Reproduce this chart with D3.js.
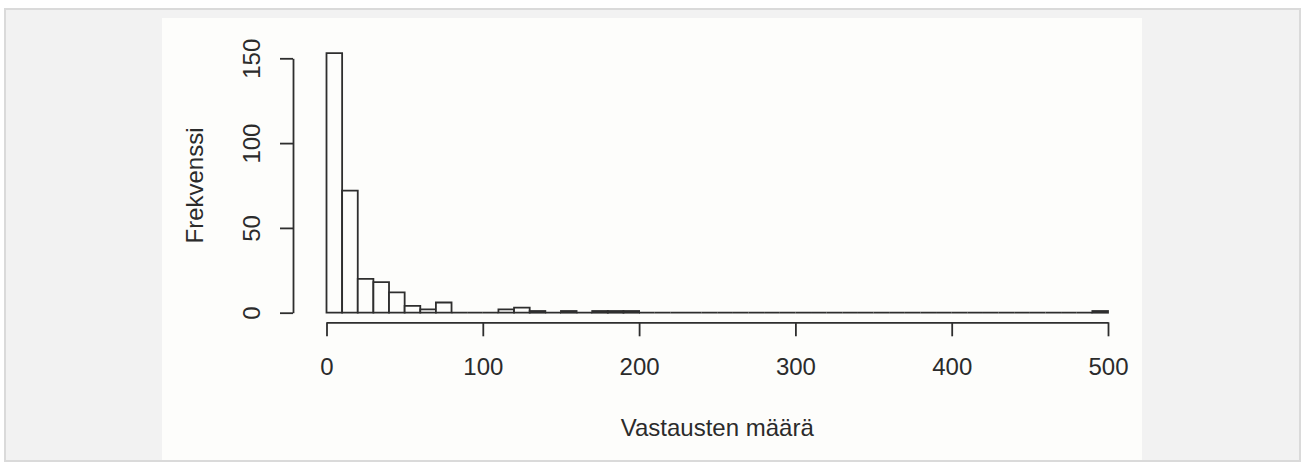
<!DOCTYPE html>
<html>
<head>
<meta charset="utf-8">
<script src="https://cdn.jsdelivr.net/npm/d3@7"></script>
<style>
  html, body { margin: 0; padding: 0; background: #fff; }
  svg { display: block; }
  text { font-family: "Liberation Sans", Arial, sans-serif; fill: #2b2b2b; }
</style>
</head>
<body>
<svg id="chart" width="1301" height="462"></svg>
<script>
// histogram of answer counts, bins of width 10 from 0 to 500
var binWidth = 10;
var counts = [153, 72, 20, 18, 12, 4, 2, 6, 0, 0,
              0, 2, 3, 1, 0, 1, 0, 1, 1, 1,
              0, 0, 0, 0, 0, 0, 0, 0, 0, 0,
              0, 0, 0, 0, 0, 0, 0, 0, 0, 0,
              0, 0, 0, 0, 0, 0, 0, 0, 0, 1];
var xTicks = [0, 100, 200, 300, 400, 500];
var yTicks = [0, 50, 100, 150];
var xLabel = "Vastausten määrä";
var yLabel = "Frekvenssi";

var svg = d3.select("#chart");
var ink = "#2e2e2e";
var fs = 24;

// page frame
svg.append("rect").attr("x", 0).attr("y", 0).attr("width", 1301).attr("height", 462).attr("fill", "#fff");
svg.append("rect")
    .attr("x", 5).attr("y", 9).attr("width", 1295).attr("height", 452)
    .attr("fill", "#f2f2f2").attr("stroke", "#dadada").attr("stroke-width", 2);
svg.append("rect")
    .attr("x", 162).attr("y", 18).attr("width", 980).attr("height", 442)
    .attr("fill", "#fdfdfb");

var x = d3.scaleLinear().domain([0, 500]).range([326.5, 1108]);
var y = d3.scaleLinear().domain([0, 150]).range([312.7, 58.3]);

var bins = counts.map(function (c, i) {
    return {x0: i * binWidth, x1: (i + 1) * binWidth, n: c};
});

svg.append("g").selectAll("path")
    .data(bins)
    .enter().append("path")
    .attr("d", function (d) {
        return "M" + x(d.x0) + "," + y(0) + "V" + y(d.n) + "H" + x(d.x1) + "V" + y(0) + "Z";
    })
    .attr("fill", "#fdfdfb")
    .attr("stroke", ink)
    .attr("stroke-width", 1.8);

// x axis
var gx = svg.append("g")
    .attr("transform", "translate(0,322.3)")
    .call(d3.axisBottom(x).tickValues(xTicks).tickSize(14).tickSizeOuter(0).tickPadding(22));
gx.selectAll("path, line").attr("stroke", ink).attr("stroke-width", 1.8);
gx.selectAll("text").attr("font-size", fs).attr("fill", ink)
    .style("font-family", "Liberation Sans, Arial, sans-serif");

// y axis
var gy = svg.append("g")
    .attr("transform", "translate(293,0)")
    .call(d3.axisLeft(y).tickValues(yTicks).tickSize(13).tickSizeOuter(0));
gy.selectAll("path, line").attr("stroke", ink).attr("stroke-width", 1.8);
gy.selectAll("text")
    .attr("transform", "rotate(-90)")
    .attr("x", 0).attr("y", -33).attr("dy", 0)
    .attr("text-anchor", "middle")
    .attr("font-size", fs).attr("fill", ink)
    .style("font-family", "Liberation Sans, Arial, sans-serif");

// axis titles
svg.append("text")
    .attr("x", (x.range()[0] + x.range()[1]) / 2)
    .attr("y", 436)
    .attr("text-anchor", "middle")
    .attr("font-size", fs)
    .text(xLabel);

svg.append("text")
    .attr("transform", "translate(203," + ((y.range()[0] + y.range()[1]) / 2) + ") rotate(-90)")
    .attr("text-anchor", "middle")
    .attr("font-size", fs)
    .text(yLabel);
</script>
</body>
</html>
